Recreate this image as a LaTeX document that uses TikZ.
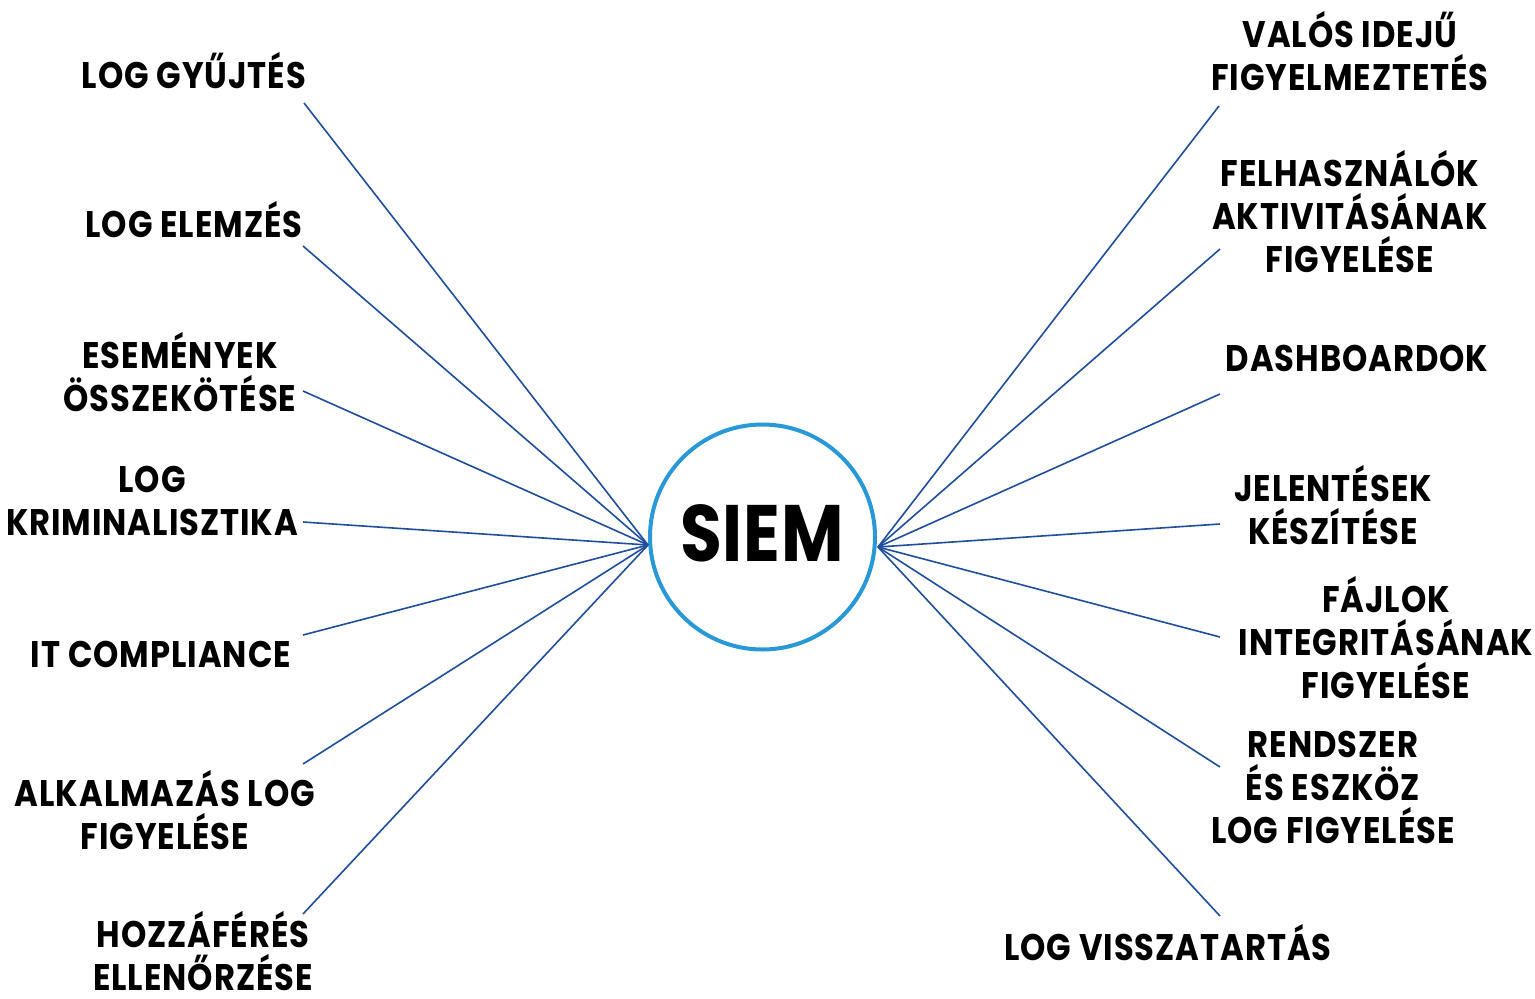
\documentclass[tikz,border=0pt]{standalone}
\usepackage{fontspec}
\newfontfamily\lblfont{Poppins}[FakeStretch=0.87, LetterSpace=2.6]
\newfontfamily\siemfont{Poppins}[FakeStretch=0.85, LetterSpace=1]
\begin{document}
\begin{tikzpicture}[x=1pt,y=-1pt,
  lbl/.style={font=\lblfont\bfseries\fontsize{37}{43}\selectfont, align=center, inner sep=0pt, text=black},
  spoke/.style={draw=spokeblue, line width=1.6pt},
  hub/.style={circle, draw=hubblue, line width=4pt, minimum size=225pt, inner sep=0pt},
  hubtext/.style={font=\siemfont\bfseries\fontsize{80}{80}\selectfont, inner sep=0pt, text=black}]
\definecolor{spokeblue}{HTML}{1F4F9C}
\definecolor{hubblue}{HTML}{2899D6}
\useasboundingbox (0,0) rectangle (1535,999);
\fill[white] (0,0) rectangle (1535,999);
\node[hub] (siem) at (762.5,537) {};
\node[hubtext] (siemtxt) at (762,533) {SIEM};
\coordinate (cl) at (648,545);
\coordinate (cr) at (878,547);
% left labels
\node[lbl] (l1) at (194,71) {LOG GYŰJTÉS};
\node[lbl] (l2) at (194,220) {LOG ELEMZÉS};
\node[lbl] (l3) at (180,372) {ESEMÉNYEK\\ÖSSZEKÖTÉSE};
\node[lbl] (l4) at (152,501) {LOG\\KRIMINALISZTIKA};
\node[lbl] (l5) at (161,654) {IT COMPLIANCE};
\node[lbl] (l6) at (165,810) {ALKALMAZÁS LOG\\FIGYELÉSE};
\node[lbl, text depth=0pt, anchor=south] (l7) at (203,991) {HOZZÁFÉRÉS\\ELLENŐRZÉSE};
% right labels
\node[lbl] (r1) at (1350,51) {VALÓS IDEJŰ\\FIGYELMEZTETÉS};
\node[lbl] (r2) at (1350,212) {FELHASZNÁLÓK\\AKTIVITÁSÁNAK\\FIGYELÉSE};
\node[lbl] (r3) at (1357,358) {DASHBOARDOK};
\node[lbl] (r4) at (1333,505) {JELENTÉSEK\\KÉSZÍTÉSE};
\node[lbl] (r5) at (1386,638) {FÁJLOK\\INTEGRITÁSÁNAK\\FIGYELÉSE};
\node[lbl] (r6) at (1333,787) {RENDSZER\\ÉS ESZKÖZ\\LOG FIGYELÉSE};
\node[lbl] (r7) at (1168,943) {LOG VISSZATARTÁS};
% spoke ends
\coordinate (e1) at (304,103);
\coordinate (e2) at (303,246);
\coordinate (e3) at (303,391);
\coordinate (e4) at (303,522);
\coordinate (e5) at (303,635);
\coordinate (e6) at (303,764);
\coordinate (e7) at (303,914);
\coordinate (f1) at (1219,106);
\coordinate (f2) at (1220,249);
\coordinate (f3) at (1220,394);
\coordinate (f4) at (1220,524);
\coordinate (f5) at (1220,637);
\coordinate (f6) at (1220,767);
\coordinate (f7) at (1220,916);
\foreach \i in {1,...,7}{
  \draw[spoke] (e\i) -- (cl);
  \draw[spoke] (f\i) -- (cr);
}
\end{tikzpicture}
\end{document}
